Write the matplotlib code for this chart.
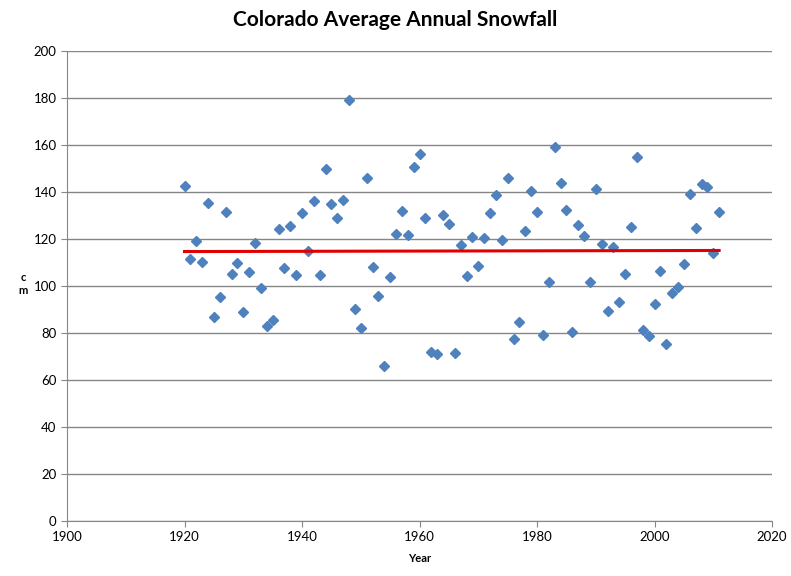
import matplotlib
matplotlib.use("Agg")
import matplotlib.pyplot as plt
import numpy as np

years = list(range(1920, 2012))
snow = [142.6, 111.7, 119.1, 110.2, 135.3, 86.8, 95.2, 131.5, 105.2, 109.9,
        89.1, 106.0, 118.3, 99.1, 83.1, 85.7, 124.1, 107.7, 125.7, 104.7,
        131.1, 114.7, 136.2, 104.8, 149.8, 134.7, 128.8, 136.7, 179.1, 90.2,
        82.1, 146.0, 108.1, 95.6, 66.1, 103.7, 122.1, 131.9, 121.7, 150.6,
        156.2, 129.1, 71.9, 71.0, 130.3, 126.5, 71.5, 117.4, 104.2, 121.0,
        108.6, 120.3, 131.1, 138.7, 119.6, 146.0, 77.4, 84.8, 123.4, 140.4,
        131.5, 79.1, 101.7, 159.1, 143.8, 132.5, 80.4, 126.1, 121.3, 101.7,
        141.3, 117.9, 89.4, 116.6, 93.2, 105.1, 125.1, 154.9, 81.4, 78.7,
        92.3, 106.5, 75.2, 97.0, 99.7, 109.3, 139.1, 124.7, 143.4, 142.1,
        114.0, 131.5]

plt.rcParams['font.family'] = ['Lato', 'DejaVu Sans']

fig = plt.figure(figsize=(7.91, 5.76), dpi=100)
ax = fig.add_axes([67/791, 55/576, 705/791, 470/576])

# linear trend
coef = np.polyfit(years, snow, 1)
fit = np.polyval(coef, years)

ax.plot(years, snow, linestyle='none', marker='D', markersize=5.5,
        color='#4F81BD', zorder=3)
ax.plot(years, fit, color='#E00000', linewidth=2.2, zorder=4)

ax.set_xlim(1900, 2020)
ax.set_ylim(0, 200)
ax.set_xticks(range(1900, 2021, 20))
ax.set_yticks(range(0, 201, 20))
ax.yaxis.grid(True, color='#868686', linewidth=1)
ax.set_axisbelow(True)
for s in ['top', 'right']:
    ax.spines[s].set_visible(False)
for s in ['left', 'bottom']:
    ax.spines[s].set_color('#868686')
ax.tick_params(axis='both', colors='#868686', labelcolor='black',
               labelsize=9.5, length=4, direction='out')

fig.text(0.5, 1 - 20/576, 'Colorado Average Annual Snowfall', ha='center',
         va='center', fontsize=15, fontweight='bold')
fig.text(420/791, 1 - 558/576, 'Year', ha='center', va='center',
         fontsize=8, fontweight='bold')
fig.text(23/791, 1 - 284/576, 'c\nm', ha='center', va='center',
         fontsize=8, fontweight='bold', linespacing=1.3)

fig.savefig('out.png', dpi=100)
